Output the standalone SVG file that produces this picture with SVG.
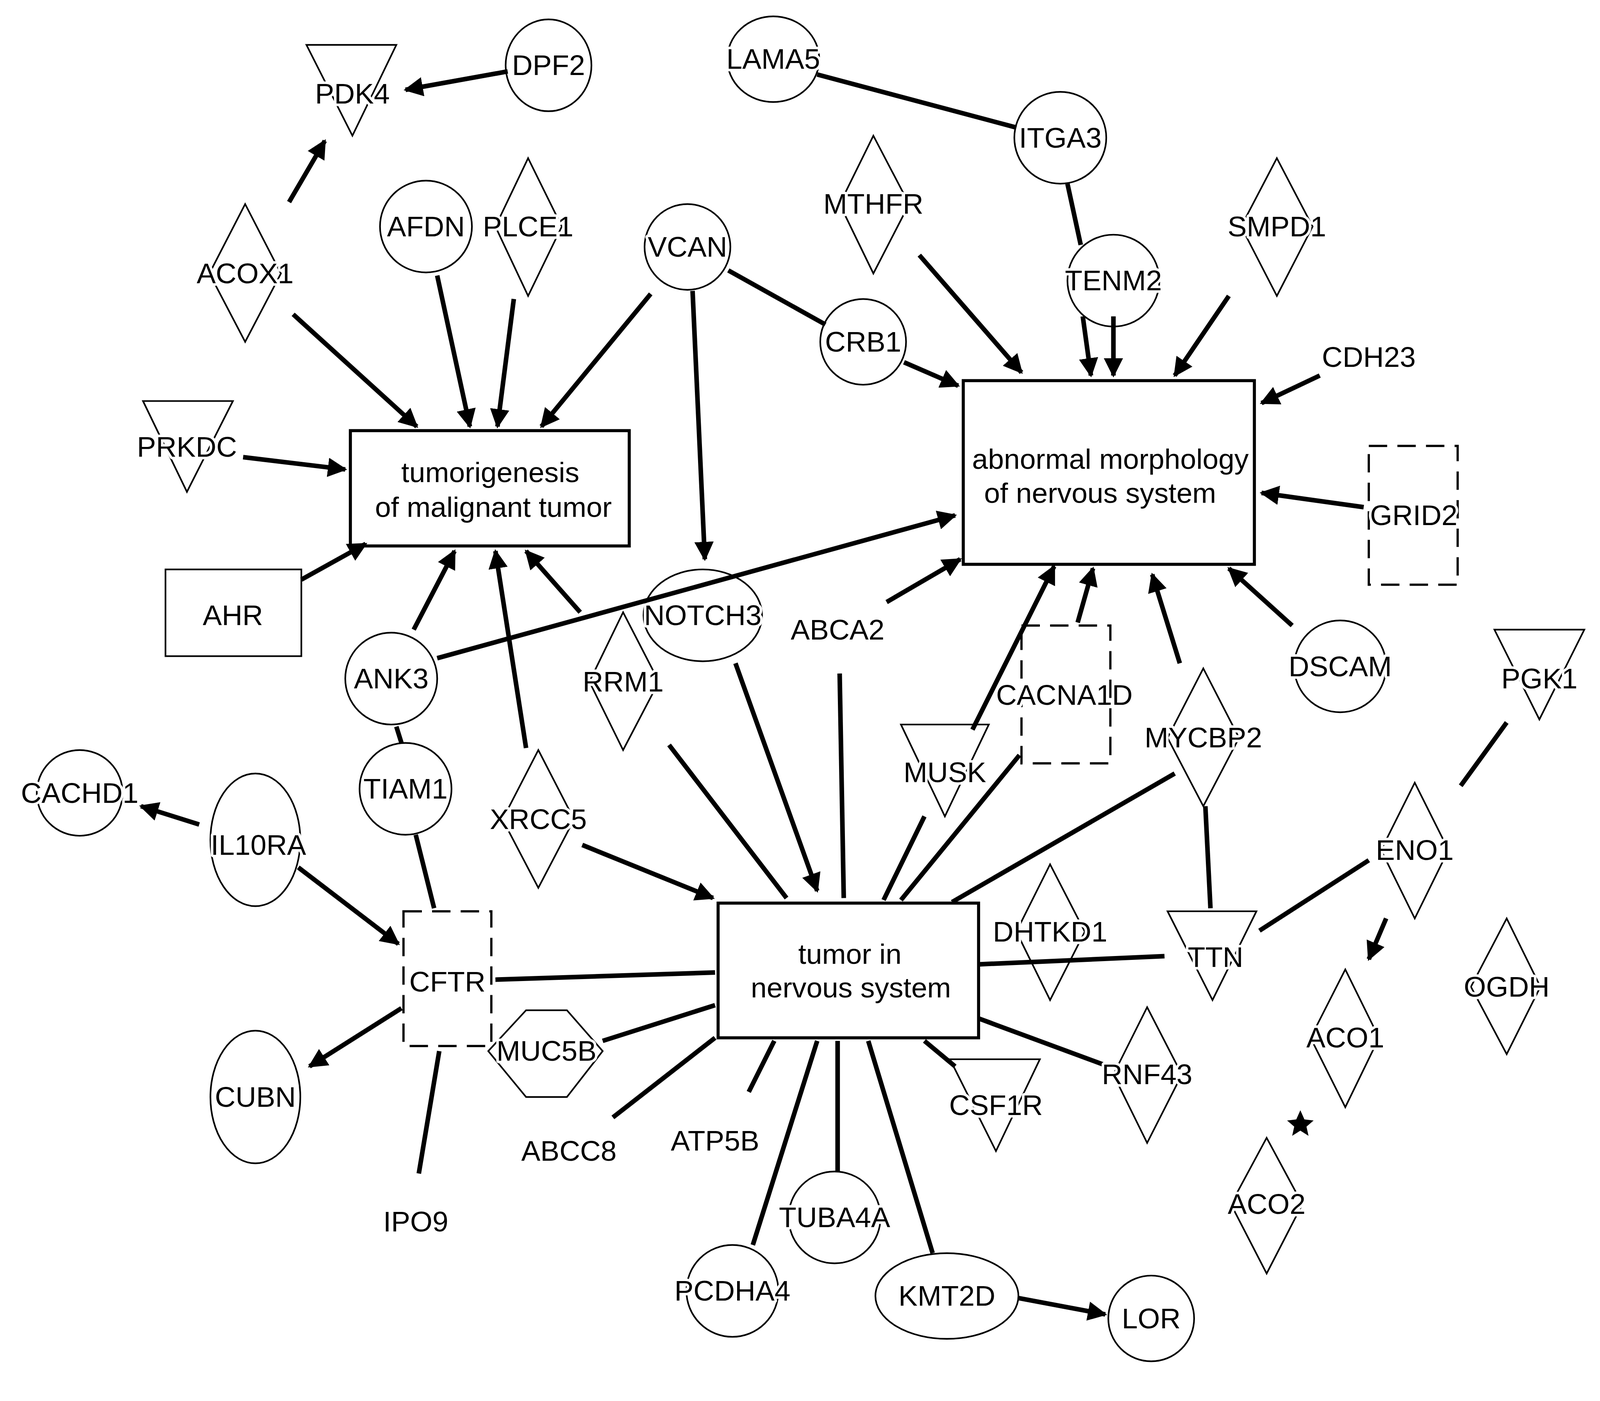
<svg xmlns="http://www.w3.org/2000/svg" width="4182" height="3586" viewBox="0 0 4182 3586">
<style>
.e{stroke:#000;stroke-width:4.5;fill:none}
.a{marker-end:url(#ah)}
.n{stroke:#000;stroke-width:1.6;fill:none}
.b{stroke:#000;stroke-width:3;fill:none}
.d{stroke:#000;stroke-width:2.2;fill:none;stroke-dasharray:18 10}
text{font-family:"Liberation Sans",Arial,sans-serif;font-size:28px;text-anchor:middle;dominant-baseline:central;fill:#000;stroke:#fff;stroke-width:5;paint-order:stroke;stroke-linejoin:round}
</style>
<defs>
<marker id="ah" viewBox="0 0 10 10" refX="9" refY="5" markerWidth="4.2" markerHeight="4.2" orient="auto" markerUnits="strokeWidth">
<path d="M0,0L10,5L0,10z" fill="#000"/>
</marker>
</defs>
<rect width="4182" height="3586" fill="#fff"/>
<g transform="scale(2.615,2.612)">
<g id="edges">
<line class="e a" x1="497" y1="70" x2="397" y2="88"/>
<line class="e a" x1="283" y1="198" x2="318" y2="138"/>
<line class="e a" x1="287" y1="308" x2="408" y2="418"/>
<line class="e a" x1="428" y1="270" x2="460" y2="418"/>
<line class="e a" x1="503" y1="293" x2="487" y2="418"/>
<line class="e a" x1="637" y1="288" x2="530" y2="418"/>
<line class="e" x1="713" y1="265" x2="808" y2="318"/>
<line class="e a" x1="678" y1="285" x2="690" y2="548"/>
<line class="e" x1="800" y1="73" x2="995" y2="125"/>
<line class="e" x1="1045" y1="180" x2="1058" y2="240"/>
<line class="e a" x1="1060" y1="310" x2="1068" y2="368"/>
<line class="e a" x1="1090" y1="310" x2="1090" y2="368"/>
<line class="e a" x1="900" y1="250" x2="1000" y2="365"/>
<line class="e a" x1="1203" y1="290" x2="1150" y2="368"/>
<line class="e a" x1="885" y1="355" x2="938" y2="378"/>
<line class="e a" x1="1292" y1="368" x2="1235" y2="395"/>
<line class="e a" x1="1335" y1="497" x2="1235" y2="483"/>
<line class="e a" x1="1265" y1="613" x2="1203" y2="557"/>
<line class="e a" x1="238" y1="448" x2="338" y2="460"/>
<line class="e a" x1="295" y1="568" x2="358" y2="533"/>
<line class="e a" x1="405" y1="617" x2="445" y2="540"/>
<line class="e a" x1="515" y1="733" x2="485" y2="540"/>
<line class="e a" x1="568" y1="600" x2="515" y2="540"/>
<line class="e a" x1="428" y1="645" x2="935" y2="505"/>
<line class="e a" x1="868" y1="590" x2="940" y2="548"/>
<line class="e a" x1="952" y1="715" x2="1032" y2="555"/>
<line class="e a" x1="1055" y1="610" x2="1070" y2="557"/>
<line class="e a" x1="1155" y1="650" x2="1128" y2="563"/>
<line class="e" x1="388" y1="712" x2="393" y2="728"/>
<line class="e" x1="407" y1="818" x2="425" y2="890"/>
<line class="e a" x1="195" y1="808" x2="138" y2="790"/>
<line class="e a" x1="292" y1="850" x2="390" y2="925"/>
<line class="e a" x1="393" y1="988" x2="303" y2="1045"/>
<line class="e" x1="485" y1="960" x2="700" y2="953"/>
<line class="e" x1="430" y1="1030" x2="410" y2="1150"/>
<line class="e" x1="590" y1="1020" x2="700" y2="985"/>
<line class="e a" x1="570" y1="828" x2="698" y2="880"/>
<line class="e a" x1="720" y1="650" x2="800" y2="873"/>
<line class="e" x1="655" y1="730" x2="770" y2="880"/>
<line class="e" x1="822" y1="660" x2="826" y2="880"/>
<line class="e" x1="905" y1="800" x2="865" y2="882"/>
<line class="e" x1="998" y1="740" x2="882" y2="882"/>
<line class="e" x1="1150" y1="758" x2="932" y2="884"/>
<line class="e" x1="1180" y1="790" x2="1185" y2="890"/>
<line class="e" x1="958" y1="945" x2="1140" y2="937"/>
<line class="e" x1="1340" y1="843" x2="1233" y2="912"/>
<line class="e" x1="1475" y1="708" x2="1430" y2="770"/>
<line class="e a" x1="1357" y1="900" x2="1340" y2="940"/>
<line class="e" x1="958" y1="998" x2="1085" y2="1045"/>
<line class="e" x1="905" y1="1020" x2="935" y2="1045"/>
<line class="e" x1="700" y1="1017" x2="600" y2="1095"/>
<line class="e" x1="758" y1="1020" x2="733" y2="1070"/>
<line class="e" x1="800" y1="1020" x2="737" y2="1220"/>
<line class="e" x1="820" y1="1020" x2="820" y2="1148"/>
<line class="e" x1="850" y1="1020" x2="913" y2="1228"/>
<line class="e a" x1="997" y1="1272" x2="1082" y2="1288"/>
</g>
<g id="PDK4"><polygon class="n" points="300,44 388,44 345,133"/><text x="345" y="92">PDK4</text></g>
<g id="DPF2"><ellipse class="n" cx="537" cy="64" rx="42" ry="45"/><text x="537" y="64">DPF2</text></g>
<g id="LAMA5"><ellipse class="n" cx="757" cy="58" rx="45" ry="42"/><text x="757" y="58">LAMA5</text></g>
<g id="ITGA3"><ellipse class="n" cx="1038" cy="135" rx="45" ry="45"/><text x="1038" y="135">ITGA3</text></g>
<g id="ACOX1"><polygon class="n" points="240,200 275,268 240,335 205,268"/><text x="240" y="268">ACOX1</text></g>
<g id="AFDN"><ellipse class="n" cx="417" cy="222" rx="45" ry="45"/><text x="417" y="222">AFDN</text></g>
<g id="PLCE1"><polygon class="n" points="517,155 550,222 517,290 485,222"/><text x="517" y="222">PLCE1</text></g>
<g id="VCAN"><ellipse class="n" cx="673" cy="242" rx="42" ry="42"/><text x="673" y="242">VCAN</text></g>
<g id="MTHFR"><polygon class="n" points="855,133 890,200 855,268 822,200"/><text x="855" y="200">MTHFR</text></g>
<g id="TENM2"><ellipse class="n" cx="1090" cy="275" rx="45" ry="45"/><text x="1090" y="275">TENM2</text></g>
<g id="SMPD1"><polygon class="n" points="1250,155 1285,222 1250,290 1215,222"/><text x="1250" y="222">SMPD1</text></g>
<g id="CRB1"><ellipse class="n" cx="845" cy="335" rx="42" ry="42"/><text x="845" y="335">CRB1</text></g>
<g id="CDH23"><text x="1340" y="350">CDH23</text></g>
<g id="PRKDC"><polygon class="n" points="140,393 228,393 183,482"/><text x="183" y="438">PRKDC</text></g>
<g id="tumorigenesis"><rect class="b" x="343" y="422" width="273" height="113"/><text x="480" y="463">tumorigenesis</text><text x="483" y="497">of malignant tumor</text></g>
<g id="abnormal"><rect class="b" x="943" y="373" width="285" height="180"/><text x="1087" y="450">abnormal morphology</text><text x="1077" y="483">of nervous system</text></g>
<g id="GRID2"><rect class="d" x="1340" y="437" width="87" height="136"/><text x="1384" y="505">GRID2</text></g>
<g id="AHR"><rect class="n" x="162" y="558" width="133" height="85"/><text x="228" y="603">AHR</text></g>
<g id="NOTCH3"><ellipse class="n" cx="688" cy="603" rx="58" ry="45"/><text x="688" y="603">NOTCH3</text></g>
<g id="ABCA2"><text x="820" y="617">ABCA2</text></g>
<g id="ANK3"><ellipse class="n" cx="383" cy="665" rx="45" ry="45"/><text x="383" y="665">ANK3</text></g>
<g id="RRM1"><polygon class="n" points="610,600 645,668 610,735 577,668"/><text x="610" y="668">RRM1</text></g>
<g id="DSCAM"><ellipse class="n" cx="1312" cy="653" rx="45" ry="45"/><text x="1312" y="653">DSCAM</text></g>
<g id="PGK1"><polygon class="n" points="1463,617 1551,617 1507,705"/><text x="1507" y="665">PGK1</text></g>
<g id="CACNA1D"><rect class="d" x="1000" y="613" width="87" height="135"/><text x="1042" y="681">CACNA1D</text></g>
<g id="MYCBP2"><polygon class="n" points="1178,655 1213,723 1178,790 1143,723"/><text x="1178" y="723">MYCBP2</text></g>
<g id="MUSK"><polygon class="n" points="882,710 968,710 925,800"/><text x="925" y="757">MUSK</text></g>
<g id="TIAM1"><ellipse class="n" cx="397" cy="773" rx="45" ry="45"/><text x="397" y="773">TIAM1</text></g>
<g id="CACHD1"><ellipse class="n" cx="78" cy="777" rx="42" ry="42"/><text x="78" y="777">CACHD1</text></g>
<g id="IL10RA"><ellipse class="n" cx="250" cy="823" rx="44" ry="65"/><text x="253" y="828">IL10RA</text></g>
<g id="XRCC5"><polygon class="n" points="527,735 562,803 527,870 492,803"/><text x="527" y="803">XRCC5</text></g>
<g id="ENO1"><polygon class="n" points="1385,767 1418,833 1385,900 1352,833"/><text x="1385" y="833">ENO1</text></g>
<g id="tumor"><rect class="b" x="703" y="885" width="255" height="132"/><text x="832" y="935">tumor in</text><text x="833" y="968">nervous system</text></g>
<g id="DHTKD1"><polygon class="n" points="1028,847 1062,913 1028,980 995,913"/><text x="1028" y="913">DHTKD1</text></g>
<g id="TTN"><polygon class="n" points="1143,893 1230,893 1187,980"/><text x="1190" y="938">TTN</text></g>
<g id="CFTR"><rect class="d" x="395" y="893" width="86" height="132"/><text x="438" y="962">CFTR</text></g>
<g id="OGDH"><polygon class="n" points="1475,900 1508,967 1475,1033 1440,967"/><text x="1475" y="967">OGDH</text></g>
<g id="ACO1"><polygon class="n" points="1317,950 1350,1017 1317,1085 1283,1017"/><text x="1317" y="1017">ACO1</text></g>
<g id="MUC5B"><polygon class="n" points="478,1030 515,990 555,990 590,1030 555,1075 515,1075"/><text x="535" y="1030">MUC5B</text></g>
<g id="RNF43"><polygon class="n" points="1123,987 1157,1053 1123,1120 1090,1053"/><text x="1123" y="1053">RNF43</text></g>
<g id="CSF1R"><polygon class="n" points="930,1038 1018,1038 975,1128"/><text x="975" y="1083">CSF1R</text></g>
<g id="CUBN"><ellipse class="n" cx="250" cy="1075" rx="44" ry="65"/><text x="250" y="1075">CUBN</text></g>
<g id="ABCC8"><text x="557" y="1128">ABCC8</text></g>
<g id="ATP5B"><text x="700" y="1118">ATP5B</text></g>
<g id="ACO2"><polygon class="n" points="1240,1115 1275,1180 1240,1248 1205,1180"/><text x="1240" y="1180">ACO2</text></g>
<g id="IPO9"><text x="407" y="1197">IPO9</text></g>
<g id="TUBA4A"><ellipse class="n" cx="817" cy="1193" rx="45" ry="45"/><text x="817" y="1193">TUBA4A</text></g>
<g id="PCDHA4"><ellipse class="n" cx="717" cy="1265" rx="45" ry="45"/><text x="717" y="1265">PCDHA4</text></g>
<g id="KMT2D"><ellipse class="n" cx="927" cy="1270" rx="70" ry="42"/><text x="927" y="1270">KMT2D</text></g>
<g id="LOR"><ellipse class="n" cx="1127" cy="1292" rx="42" ry="42"/><text x="1127" y="1292">LOR</text></g>
<g id="star"><polygon points="1273,1088 1277,1097 1286,1098 1279,1104 1281,1113 1273,1108 1265,1113 1267,1104 1260,1098 1269,1097" fill="#000"/></g>
</g>
</svg>
